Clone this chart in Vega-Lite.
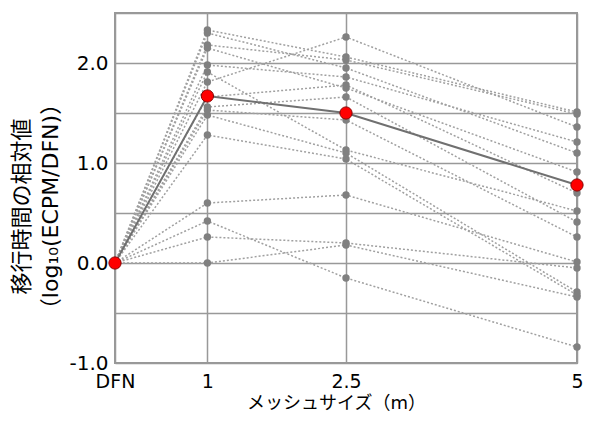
{
  "$schema": "https://vega.github.io/schema/vega-lite/v6.json",
  "width": 462,
  "height": 350,
  "autosize": {"type": "none"},
  "padding": {"left": 115, "top": 13, "right": 21, "bottom": 58},
  "background": "white",
  "config": {
    "view": {"stroke": "#999999", "strokeWidth": 2},
    "font": "DejaVu Sans"
  },
  "datasets": {
    "series": [
      {"s": 1, "x": 0, "y": 0}, {"s": 1, "x": 1, "y": 2.33}, {"s": 1, "x": 2.5, "y": 2.06}, {"s": 1, "x": 5, "y": 1.51},
      {"s": 2, "x": 0, "y": 0}, {"s": 2, "x": 1, "y": 2.30}, {"s": 2, "x": 2.5, "y": 1.95}, {"s": 2, "x": 5, "y": 1.10},
      {"s": 3, "x": 0, "y": 0}, {"s": 3, "x": 1, "y": 2.18}, {"s": 3, "x": 2.5, "y": 2.03}, {"s": 3, "x": 5, "y": 1.49},
      {"s": 4, "x": 0, "y": 0}, {"s": 4, "x": 1, "y": 2.15}, {"s": 4, "x": 2.5, "y": 1.75}, {"s": 4, "x": 5, "y": 0.91},
      {"s": 5, "x": 0, "y": 0}, {"s": 5, "x": 1, "y": 1.98}, {"s": 5, "x": 2.5, "y": 1.86}, {"s": 5, "x": 5, "y": 1.21},
      {"s": 6, "x": 0, "y": 0}, {"s": 6, "x": 1, "y": 1.91}, {"s": 6, "x": 2.5, "y": 1.13}, {"s": 6, "x": 5, "y": 0.52},
      {"s": 7, "x": 0, "y": 0}, {"s": 7, "x": 1, "y": 1.81}, {"s": 7, "x": 2.5, "y": 2.26}, {"s": 7, "x": 5, "y": 1.36},
      {"s": 8, "x": 0, "y": 0}, {"s": 8, "x": 1, "y": 1.66}, {"s": 8, "x": 2.5, "y": 1.78}, {"s": 8, "x": 5, "y": 0.70},
      {"s": 9, "x": 0, "y": 0}, {"s": 9, "x": 1, "y": 1.56}, {"s": 9, "x": 2.5, "y": 1.66}, {"s": 9, "x": 5, "y": 0.41},
      {"s": 10, "x": 0, "y": 0}, {"s": 10, "x": 1, "y": 1.53}, {"s": 10, "x": 2.5, "y": 1.43}, {"s": 10, "x": 5, "y": 0.26},
      {"s": 11, "x": 0, "y": 0}, {"s": 11, "x": 1, "y": 1.48}, {"s": 11, "x": 2.5, "y": 1.10}, {"s": 11, "x": 5, "y": -0.29},
      {"s": 12, "x": 0, "y": 0}, {"s": 12, "x": 1, "y": 1.28}, {"s": 12, "x": 2.5, "y": 1.04}, {"s": 12, "x": 5, "y": -0.32},
      {"s": 13, "x": 0, "y": 0}, {"s": 13, "x": 1, "y": 0.60}, {"s": 13, "x": 2.5, "y": 0.68}, {"s": 13, "x": 5, "y": 0.01},
      {"s": 14, "x": 0, "y": 0}, {"s": 14, "x": 1, "y": 0.42}, {"s": 14, "x": 2.5, "y": -0.15}, {"s": 14, "x": 5, "y": -0.84},
      {"s": 15, "x": 0, "y": 0}, {"s": 15, "x": 1, "y": 0.26}, {"s": 15, "x": 2.5, "y": 0.20}, {"s": 15, "x": 5, "y": -0.05},
      {"s": 16, "x": 0, "y": 0}, {"s": 16, "x": 1, "y": 0.00}, {"s": 16, "x": 2.5, "y": 0.18}, {"s": 16, "x": 5, "y": -0.34}
    ],
    "mean": [
      {"x": 0, "y": 0}, {"x": 1, "y": 1.67}, {"x": 2.5, "y": 1.50}, {"x": 5, "y": 0.78}
    ]
  },
  "encoding": {
    "x": {
      "field": "x", "type": "quantitative",
      "scale": {"domain": [0, 5], "nice": false, "zero": false},
      "axis": {
        "values": [0, 1, 2.5, 5],
        "labelExpr": "datum.value === 0 ? 'DFN' : '' + datum.value",
        "labelOverlap": false, "labelFlush": false,
        "domain": false, "ticks": false,
        "grid": true, "gridColor": "#999999", "gridWidth": 1.5, "gridOpacity": 1,
        "labelFontSize": 19, "labelColor": "#000000", "labelPadding": 9,
        "labelFont": "DejaVu Sans",
        "title": "メッシュサイズ（m）",
        "titleFont": "DejaVu Sans, Noto Sans CJK JP",
        "titleFontSize": 18, "titleFontWeight": "normal", "titleColor": "#000000",
        "titlePadding": 3, "titleX": 221
      }
    },
    "y": {
      "field": "y", "type": "quantitative",
      "scale": {"domain": [-1, 2.5], "nice": false, "zero": false},
      "axis": {
        "values": [-1, -0.5, 0, 0.5, 1, 1.5, 2, 2.5],
        "labelExpr": "datum.value % 1 === 0 ? (datum.value < 0 ? '-' + format(-datum.value, '.1f') : format(datum.value, '.1f')) : ''",
        "labelOverlap": false,
        "domain": false, "ticks": false,
        "grid": true, "gridColor": "#999999", "gridWidth": 1.5, "gridOpacity": 1,
        "labelFontSize": 20, "labelColor": "#000000", "labelPadding": 7,
        "labelFont": "DejaVu Sans",
        "title": ["移行時間の相対値", "（log₁₀(ECPM/DFN)）"],
        "titleFont": "DejaVu Sans, Noto Sans CJK JP",
        "titleFontSize": 22, "titleFontWeight": "normal", "titleColor": "#000000",
        "titleLineHeight": 29,
        "titleAngle": -90, "titleAlign": "center", "titleBaseline": "top",
        "titleX": -104, "titleY": 193
      }
    }
  },
  "layer": [
    {
      "data": {"name": "series"},
      "mark": {"type": "line", "color": "#a0a0a0", "strokeWidth": 1.5, "strokeDash": [2, 2]},
      "encoding": {"detail": {"field": "s", "type": "nominal"}}
    },
    {
      "data": {"name": "series"},
      "mark": {"type": "circle", "color": "#808080", "opacity": 1, "size": 55}
    },
    {
      "data": {"name": "mean"},
      "mark": {"type": "line", "color": "#707070", "strokeWidth": 2}
    },
    {
      "data": {"name": "mean"},
      "mark": {"type": "point", "filled": true, "fill": "#ff0000", "stroke": "#8b0000", "strokeWidth": 1, "opacity": 1, "fillOpacity": 1, "size": 150, "shape": "circle"}
    }
  ]
}
